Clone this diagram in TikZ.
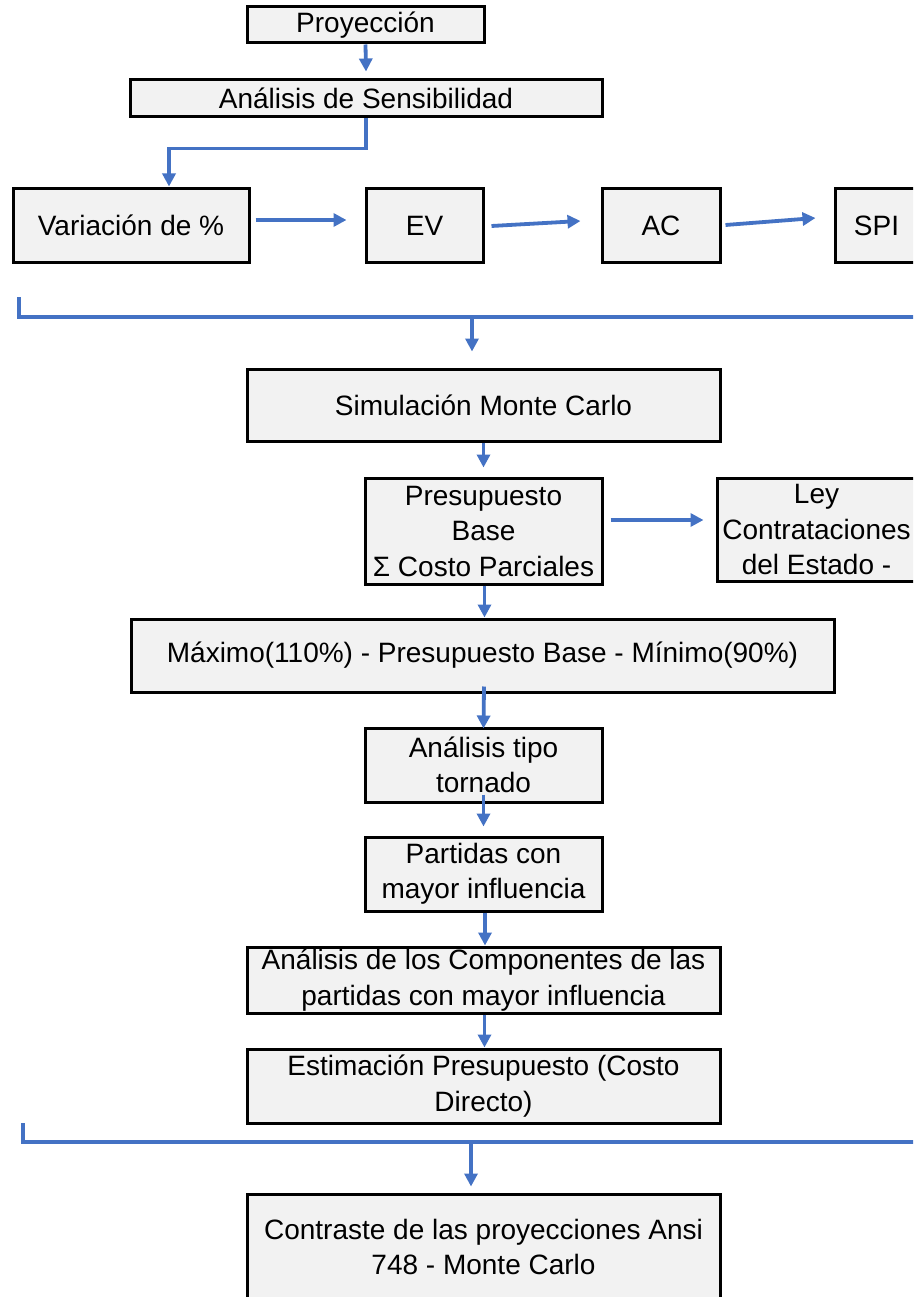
\documentclass[tikz,border=0pt]{standalone}
\usepackage{fontspec}
\setmainfont{Liberation Sans}
\usetikzlibrary{arrows.meta,calc}
\definecolor{flowblue}{RGB}{68,114,196}
\definecolor{boxgray}{RGB}{242,242,242}
\begin{document}
\begin{tikzpicture}[x=1pt,y=-1pt,
  box/.style={draw=black, line width=3pt, fill=boxgray, inner sep=0pt,
    align=center, font=\fontsize{28}{35.5}\selectfont},
  flow/.style={draw=flowblue, line width=3.8pt,
    -{Triangle[length=13pt,width=13pt]}},
  link/.style={draw=flowblue, line width=3.8pt}]
\useasboundingbox (0,0) rectangle (913,1297);
\clip (0,0) rectangle (913,1297);
\fill[white] (0,0) rectangle (913,1297);

% boxes
\node[box, minimum width=237pt, minimum height=36pt] (proy) at (365.5,25) {\raisebox{-3pt}{Proyección}};
\node[box, minimum width=472pt, minimum height=37pt] (sens) at (366,98.5) {\raisebox{-1.5pt}{Análisis de Sensibilidad}};
\node[box, minimum width=236pt, minimum height=73pt] (var) at (131,225.5) {Variación de \%};
\node[box, minimum width=117pt, minimum height=73pt] (ev) at (424.5,225.5) {EV};
\node[box, minimum width=118pt, minimum height=73pt] (ac) at (661,225.5) {AC};
\node[box, minimum width=83pt, minimum height=73pt] (spi) at (876.5,225.5) {SPI};
\node[box, minimum width=473pt, minimum height=72pt] (sim) at (483.5,405) {Simulación Monte Carlo};
\node[box, minimum width=237pt, minimum height=106pt] (pres) at (483.5,531) {Presupuesto\\Base\\Σ Costo Parciales};
\node[box, minimum width=199pt, minimum height=103pt] (ley) at (816.5,529.5) {Ley\\Contrataciones\\del Estado -};
\node[box, minimum width=703pt, minimum height=73pt] (max) at (482.5,655.5) {Máximo(110\%) - Presupuesto Base - Mínimo(90\%)};
\node[box, minimum width=237pt, minimum height=74pt] (tor) at (483.5,765) {Análisis tipo\\tornado};
\node[box, minimum width=237pt, minimum height=74pt] (part) at (483.5,874) {Partidas con\\mayor influencia};
\node[box, minimum width=473pt, minimum height=66pt] (comp) at (483.5,980) {Análisis de los Componentes de las\\partidas con mayor influencia};
\node[box, minimum width=473pt, minimum height=74pt] (est) at (483.5,1086) {Estimación Presupuesto (Costo\\Directo)};
\node[box, minimum width=473pt, minimum height=106pt] (con) at (483.5,1247) {Contraste de las proyecciones Ansi\\748 - Monte Carlo};

% bracket ends
\coordinate (topL) at (19,297);
\coordinate (topR) at (925,317);
\coordinate (topM) at (472,317);
\coordinate (botL) at (23,1123);
\coordinate (botR) at (925,1142);
\coordinate (botM) at (471,1142);

% connectors
\draw[flow] (proy.south) -- ($(sens.north)+(0,-7)$);
\draw[flow] (sens.south) -- ++(0,30) -| ($(var.north)+(38,-1)$);
\draw[flow] ($(var.east)+(5,-5.5)$) -- ($(ev.west)+(-18,-5.5)$);
\draw[flow] ($(ev.east)+(7,0.5)$) -- ($(ac.west)+(-20,-4.5)$);
\draw[flow] ($(ac.east)+(4,-0.5)$) -- ($(spi.west)+(-18,-7.5)$);
\draw[link] (topL) |- (topR);
\draw[flow] (topM) -- ($(sim.north)+(-11.5,-16)$);
\draw[flow] (sim.south) -- ($(pres.north)+(0,-9)$);
\draw[flow] ($(pres.east)+(7,-11)$) -- ($(ley.west |- pres.east)+(-12,-11)$);
\draw[flow] ($(pres.south)+(1,0)$) -- ($(max.north)+(2,0)$);
\draw[flow] ($(max.south)+(1.5,-7)$) -- ($(tor.north)+(0,2)$);
\draw[flow] ($(tor.south)+(0,-9)$) -- ($(part.north)+(0,-9)$);
\draw[flow] ($(part.south)+(1.5,0)$) -- ($(comp.north)+(1.5,0)$);
\draw[flow] ($(comp.south)+(1,0)$) -- ($(est.north)+(1,0)$);
\draw[link] (botL) |- (botR);
\draw[flow] (botM) -- ($(con.north)+(-12.5,-6)$);
\end{tikzpicture}
\end{document}
